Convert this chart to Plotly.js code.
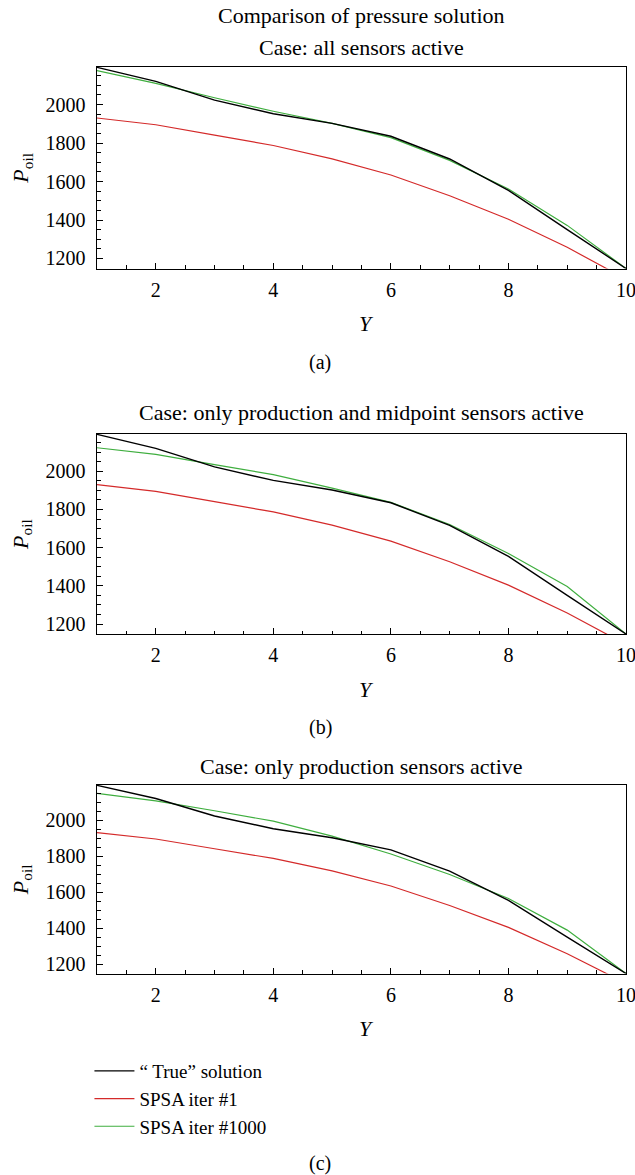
<!DOCTYPE html>
<html>
<head>
<meta charset="utf-8">
<script src="https://cdn.plot.ly/plotly-3.0.1.min.js"></script>
<style>html,body{margin:0;padding:0;background:#fff;}#chart{width:635px;height:1175px;}</style>
</head>
<body>
<div id="chart"></div>
<script>
// ---- data ----
const yPos = [1, 2, 3, 4, 5, 6, 7, 8, 9, 10];
const trueSolution = [2193, 2120, 2023, 1952, 1902, 1835, 1717, 1554, 1350, 1148];
const spsaIter1 = [1930, 1895, 1841, 1787, 1718, 1634, 1526, 1404, 1258, 1093];
const spsa1000_a = [2176, 2110, 2035, 1965, 1902, 1828, 1710, 1561, 1372, 1148];
const spsa1000_b = [2123, 2088, 2035, 1982, 1912, 1837, 1721, 1569, 1397, 1148];
const spsa1000_c = [2148, 2107, 2052, 1994, 1911, 1812, 1698, 1565, 1389, 1148];
const seriesNames = ['\u201c True\u201d solution', 'SPSA iter #1', 'SPSA iter #1000'];
const panelTitles = ['Case: all sensors active', 'Case: only production and midpoint sensors active', 'Case: only production sensors active'];
const panelLabels = ['(a)', '(b)', '(c)'];
const mainTitle = 'Comparison of pressure solution';
const yTicks = [1200, 1400, 1600, 1800, 2000];
const xTicks = [2, 4, 6, 8, 10];

const FONT = 'Liberation Serif';
const H = 1175;
const colors = ['#000000', '#d42a2a', '#3fae3f'];
const widths = [1.4, 1.2, 1.2];
const greens = [spsa1000_a, spsa1000_b, spsa1000_c];

// panel pixel boxes (top, bottom)
const boxes = [[67, 268.5], [434, 634], [785, 973.5]];
const titleY = [47, 413, 766];
const labelY = [362, 727, 1163];

const traces = [];
for (let p = 0; p < 3; p++) {
  const ax = p === 0 ? '' : String(p + 1);
  const ys = [trueSolution, spsaIter1, greens[p]];
  [1, 2, 0].forEach(function (s) {
    traces.push({
      x: yPos, y: ys[s], type: 'scatter', mode: 'lines',
      name: seriesNames[s], legendrank: s + 1,
      line: {color: colors[s], width: widths[s]},
      xaxis: 'x' + ax, yaxis: 'y' + ax,
      showlegend: p === 0, hoverinfo: 'skip'
    });
  });
}

const layout = {
  width: 635, height: H,
  margin: {l: 97, r: 9, t: 0, b: 0},
  paper_bgcolor: '#fff', plot_bgcolor: '#fff',
  font: {family: FONT, size: 20, color: '#000'},
  showlegend: true,
  legend: {
    x: -0.0143, xanchor: 'left', y: 1 - 1052 / H, yanchor: 'top',
    font: {family: FONT, size: 19, color: '#000'},
    bgcolor: 'rgba(0,0,0,0)', itemwidth: 40, traceorder: 'normal'
  },
  annotations: []
};

for (let p = 0; p < 3; p++) {
  const ax = p === 0 ? '' : String(p + 1);
  const top = boxes[p][0], bot = boxes[p][1];
  layout['xaxis' + ax] = {
    domain: [0, 1], range: [1, 10], anchor: 'y' + ax,
    tickvals: xTicks, ticks: 'inside', ticklen: 6, tickwidth: 1, tickcolor: '#000',
    minor: {dtick: 0.5, tick0: 0, ticks: 'inside', ticklen: 3.5, tickcolor: '#000', showgrid: false},
    showline: true, linecolor: '#000', linewidth: 1.4, mirror: true,
    showgrid: false, zeroline: false, ticklabelstandoff: 3, ticklabeloverflow: 'allow',
    tickfont: {family: FONT, size: 20, color: '#000'}, fixedrange: true
  };
  layout['yaxis' + ax] = {
    domain: [1 - bot / H, 1 - top / H], range: [1148, 2195], anchor: 'x' + ax,
    tickvals: yTicks, ticks: 'inside', ticklen: 6, tickwidth: 1, tickcolor: '#000',
    minor: {dtick: 50, tick0: 0, ticks: 'inside', ticklen: 3.5, tickcolor: '#000', showgrid: false},
    showline: true, linecolor: '#000', linewidth: 1.4, mirror: true,
    showgrid: false, zeroline: false, ticklabelstandoff: 6,
    tickfont: {family: FONT, size: 20, color: '#000'}, fixedrange: true
  };
  layout.annotations.push({
    text: panelTitles[p], xref: 'paper', yref: 'paper', x: 0.5, y: 1 - titleY[p] / H,
    xanchor: 'center', yanchor: 'middle', showarrow: false,
    font: {family: FONT, size: 22, color: '#000'}
  });
  layout.annotations.push({
    text: '<i>Y</i>', xref: 'paper', yref: 'paper', x: 0.51, y: 1 - (bot + 55) / H,
    xanchor: 'center', yanchor: 'middle', showarrow: false,
    font: {family: FONT, size: 22, color: '#000'}
  });
  layout.annotations.push({
    text: '<i>P</i><sub>oil</sub>', xref: 'paper', yref: 'paper', x: -0.142, y: 1 - (top + bot) / 2 / H,
    xanchor: 'center', yanchor: 'middle', showarrow: false, textangle: -90,
    font: {family: FONT, size: 22, color: '#000'}
  });
  layout.annotations.push({
    text: panelLabels[p], xref: 'paper', yref: 'paper', x: (320 - 97) / 529, y: 1 - labelY[p] / H,
    xanchor: 'center', yanchor: 'middle', showarrow: false,
    font: {family: FONT, size: 20, color: '#000'}
  });
}
layout.annotations.push({
  text: mainTitle, xref: 'paper', yref: 'paper', x: 0.5, y: 1 - 16 / H,
  xanchor: 'center', yanchor: 'middle', showarrow: false,
  font: {family: FONT, size: 22, color: '#000'}
});

Plotly.newPlot('chart', traces, layout, {displayModeBar: false, staticPlot: true});
</script>
</body>
</html>
